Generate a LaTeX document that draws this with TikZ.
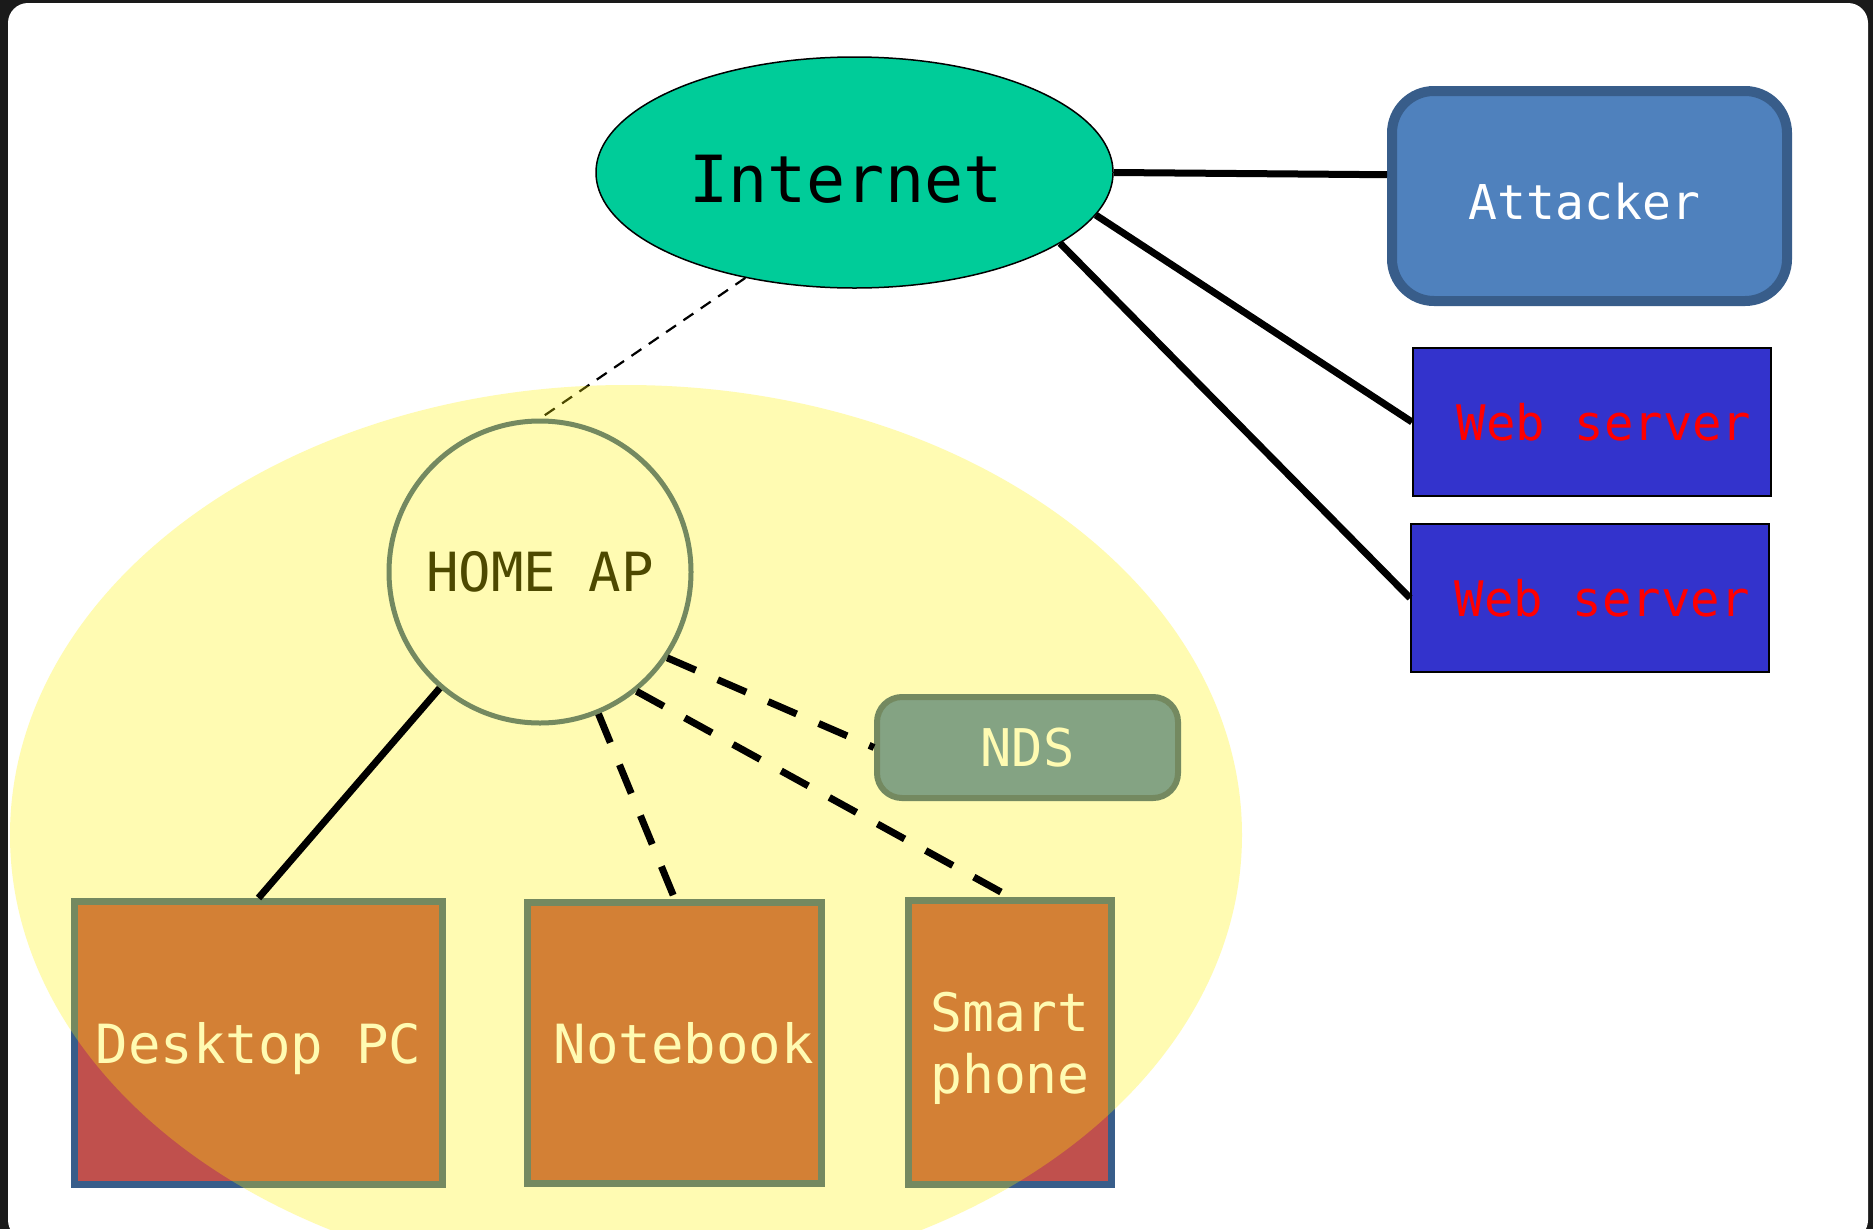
\documentclass[tikz,border=0pt]{standalone}
\usepackage{fontspec}
\newfontfamily\monofont{DejaVu Sans Mono}
\usetikzlibrary{shapes.geometric}
\definecolor{bgdark}{HTML}{1A1A1A}
\definecolor{inetgreen}{HTML}{00CC99}
\definecolor{boxblue}{HTML}{4F81BD}
\definecolor{edgeblue}{HTML}{385D8A}
\definecolor{webblue}{HTML}{3333CC}
\definecolor{devred}{HTML}{C0504D}
\begin{document}
\begin{tikzpicture}[x=1pt,y=-1pt,
  fs/.style={font=\monofont\fontsize{#1}{62}\selectfont},
  inetstyle/.style={ellipse, draw=black, line width=1.5pt, fill=inetgreen,
    minimum width=517pt, minimum height=231pt, inner sep=0pt, fs=65},
  attstyle/.style={rectangle, rounded corners=42pt, draw=edgeblue, line width=10pt,
    fill=boxblue, text=white, minimum width=395pt, minimum height=210pt, inner sep=0pt, fs=48},
  webstyle/.style={rectangle, draw=black, line width=2pt, fill=webblue, text=red,
    minimum width=358pt, minimum height=148pt, inner sep=0pt, fs=49},
  devstyle/.style={rectangle, draw=edgeblue, line width=7pt, fill=devred, text=white,
    inner sep=0pt, align=center, text depth=0pt, fs=54},
  ndsstyle/.style={rectangle, rounded corners=25pt, draw=edgeblue, line width=6pt,
    fill=boxblue, text=white, minimum width=301pt, minimum height=101pt, inner sep=0pt, fs=52},
  apstyle/.style={circle, draw=edgeblue, line width=5pt, fill=white, text=black,
    minimum size=302pt, inner sep=0pt, fs=54},
  link/.style={line width=7pt},
  dlink/.style={line width=7pt, dash pattern=on 31pt off 24pt},
  tlink/.style={line width=2.2pt, dash pattern=on 12pt off 9pt}
]
\useasboundingbox (0,0) rectangle (1873,1229);
\fill[bgdark] (0,0) rectangle (1873,1229);
\fill[white, rounded corners=20pt] (8,3) rectangle (1868,1240);

% outside nodes
\node[inetstyle] (inet) at (854.5,172.5) {\hspace*{-17pt}\raisebox{-6pt}[\height][0pt]{Internet}};
\node[attstyle] (att) at (1589.5,196) {\hspace*{-10pt}\raisebox{-5pt}[\height][0pt]{Attacker}};
\node[webstyle] (ws1) at (1592,422) {\hspace*{24pt}Web server};
\node[webstyle] (ws2) at (1590,598) {\hspace*{24pt}Web server};

% home network nodes (under the overlay)
\node[devstyle, minimum width=368pt, minimum height=283pt] (dpc) at (258.5,1043) {Desktop PC};
\node[devstyle, minimum width=294.5pt, minimum height=281.5pt] (nb) at (674.7,1043) {\hspace*{18pt}Notebook};
\node[devstyle, minimum width=203pt, minimum height=284pt, fs=53] (sp) at (1010,1042.5) {Smart\\phone};
\node[ndsstyle] (nds) at (1027.5,747.5) {NDS};
\node[apstyle] (ap) at (540,572) {HOME AP};

\draw[tlink] (inet.-136.3) -- (ap.north);

% yellow overlay
\fill[yellow, opacity=0.3] (626,835) ellipse [x radius=616pt, y radius=450pt];

% connectors on top
\draw[link] (inet.east) -- (att.174.5);
\draw[link] (inet.-10.3) -- (ws1.west);
\draw[link] (inet.-19.6) -- (ws2.west);
\draw[link] (ap) -- (dpc.north);
\draw[dlink] (ap) -- (nb.north);
\draw[dlink] (ap.-51.5) -- (sp.north);
\draw[dlink] (ap.-34) -- (nds.west);
\end{tikzpicture}
\end{document}
